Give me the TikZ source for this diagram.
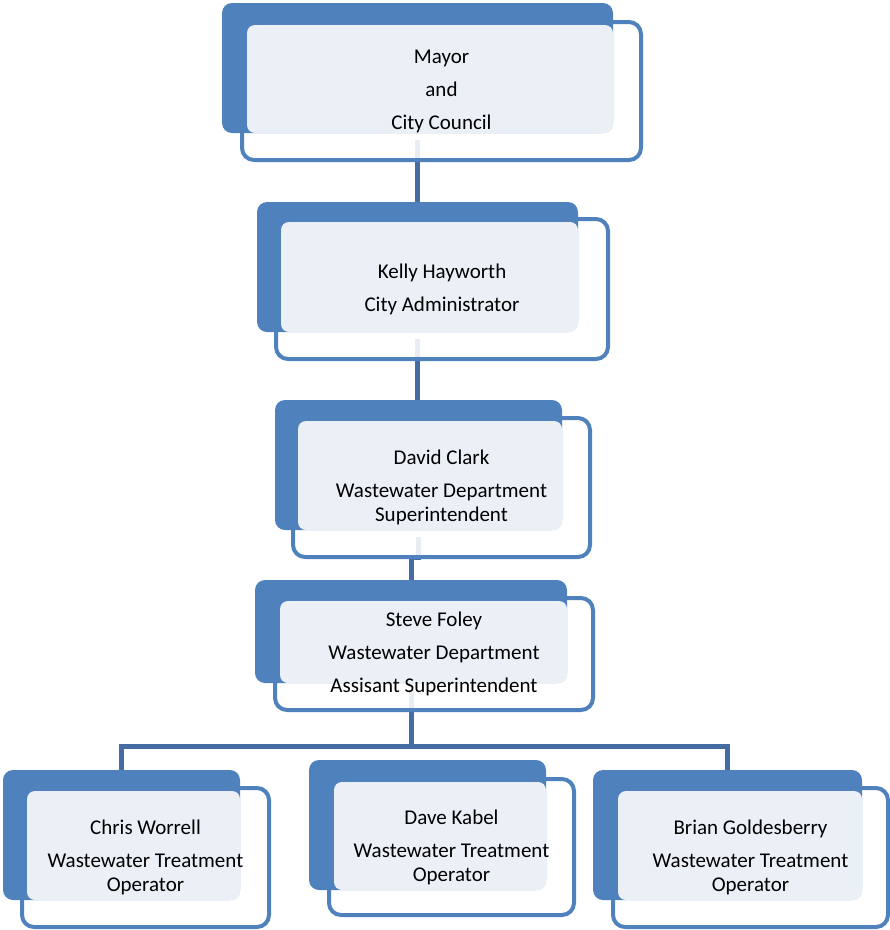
\documentclass[tikz,border=0pt]{standalone}
\usepackage{fontspec}
\setmainfont{Carlito}
\usepackage{tikz}
\usetikzlibrary{backgrounds}
\definecolor{boxblue}{RGB}{79,129,189}
\definecolor{linkblue}{RGB}{70,108,164}
\definecolor{panelgray}{RGB}{235,240,247}
\pgfdeclarelayer{links}
\pgfdeclarelayer{boxes}
\pgfsetlayers{links,boxes,main}

\begin{document}
\begin{tikzpicture}[x=1pt,y=-1pt,font=\fontsize{21}{24}\selectfont]
  \tikzstyle{frontbox}=[rectangle,draw=boxblue,line width=4pt,rounded corners=12pt,align=center,inner sep=0pt,outer sep=0pt,text=black]
  \tikzstyle{backbox}=[rectangle,fill=boxblue,rounded corners=10pt,inner sep=0pt,outer sep=0pt]
  \tikzstyle{coverbox}=[fill=white,fill opacity=0.88,rounded corners=12pt]
  \tikzstyle{panelbox}=[fill=panelgray,rounded corners=8pt]
  \tikzstyle{linkline}=[draw=linkblue,line width=5pt]

  \useasboundingbox (0,0) rectangle (890,930);

  \node[frontbox,minimum width=399pt,minimum height=138pt] (mayor) at (441.5,91) {Mayor\\[9pt]and\\[9pt]City Council};
  \node[frontbox,minimum width=332pt,minimum height=140pt] (kelly) at (442,289) {Kelly Hayworth\\[9pt]City Administrator};
  \node[frontbox,minimum width=297pt,minimum height=139pt] (david) at (441.5,487.5) {David Clark\\[9pt]Wastewater Department\\Superintendent};
  \node[frontbox,minimum width=318pt,minimum height=112pt] (steve) at (434,654) {Steve Foley\\[9pt]Wastewater Department\\[9pt]Assisant Superintendent};
  \node[frontbox,minimum width=247pt,minimum height=139pt] (chris) at (145.5,857.5) {Chris Worrell\\[9pt]Wastewater Treatment\\Operator};
  \node[frontbox,minimum width=245pt,minimum height=136pt] (dave) at (451.5,847) {Dave Kabel\\[9pt]Wastewater Treatment\\Operator};
  \node[frontbox,minimum width=275pt,minimum height=139pt] (brian) at (750.5,857.5) {Brian Goldesberry\\[9pt]Wastewater Treatment\\Operator};

  \begin{pgfonlayer}{boxes}
    \foreach \n in {mayor,kelly,david,steve,chris,dave,brian}
      \fill[coverbox] (\n.north west) rectangle (\n.south east);
    \node[backbox,minimum width=391pt,minimum height=130pt] (bk-mayor) at (417.5,68) {};
    \node[backbox,minimum width=321pt,minimum height=130pt] (bk-kelly) at (417.5,267) {};
    \node[backbox,minimum width=287pt,minimum height=130pt] (bk-david) at (418.5,465) {};
    \node[backbox,minimum width=312pt,minimum height=103pt] (bk-steve) at (411,631.5) {};
    \node[backbox,minimum width=237pt,minimum height=130pt] (bk-chris) at (121.5,835) {};
    \node[backbox,minimum width=237pt,minimum height=130pt] (bk-dave) at (427.5,825) {};
    \node[backbox,minimum width=269pt,minimum height=130pt] (bk-brian) at (727.5,835) {};
    \foreach \n in {mayor,kelly,david,steve,chris,dave,brian}
      \fill[panelbox] ([shift={(5,3)}]\n.north west) rectangle (bk-\n.south east);
  \end{pgfonlayer}

  \begin{pgfonlayer}{links}
    \coordinate (bus) at (411,746);
    \draw[linkline] ([yshift=20pt]bk-mayor.south |- mayor.south) -- (bk-kelly.north);
    \draw[linkline] ([yshift=20pt]bk-kelly.south |- kelly.south) -- (bk-kelly.south |- bk-david.north);
    \draw[linkline] ([yshift=20pt]bk-david.south |- david.south) -- (bk-david.south |- david.south) -| (bk-steve.north);
    \draw[linkline] ([yshift=20pt]bk-steve.south |- steve.south) -- (bus);
    \draw[linkline] (bk-chris.north) |- (bus) -| (bk-brian.north);
  \end{pgfonlayer}
\end{tikzpicture}
\end{document}
